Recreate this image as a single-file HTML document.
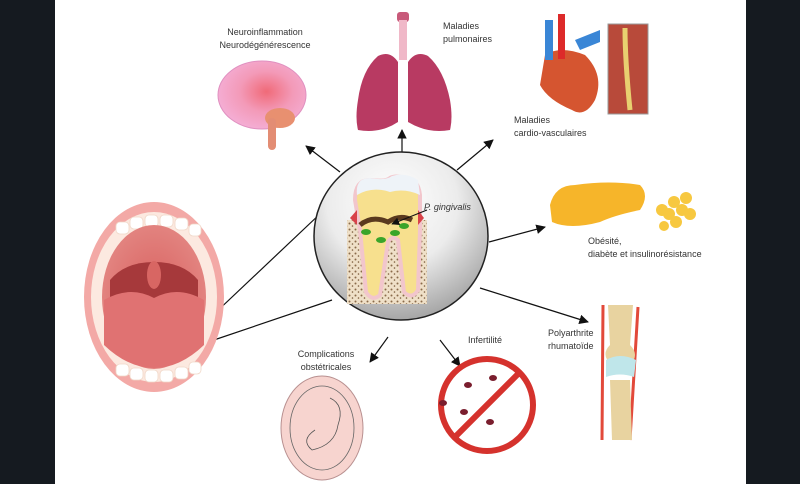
<!DOCTYPE html>
<html><head><meta charset="utf-8"><style>
html,body{margin:0;padding:0;background:#151a20;}
svg{display:block}
text{font-family:"Liberation Sans",sans-serif;font-size:9px;fill:#333;}
</style></head><body>
<svg width="800" height="484" viewBox="0 0 800 484" xmlns="http://www.w3.org/2000/svg">
<defs>
<radialGradient id="sph" cx="0.45" cy="0.3" r="0.75">
<stop offset="0" stop-color="#ffffff"/><stop offset="0.5" stop-color="#ececec"/><stop offset="1" stop-color="#9c9c9c"/></radialGradient>
<radialGradient id="mouthIn" cx="0.5" cy="0.5" r="0.6">
<stop offset="0" stop-color="#d9615f"/><stop offset="1" stop-color="#e48a86"/></radialGradient>
<radialGradient id="brainG" cx="0.55" cy="0.45" r="0.6">
<stop offset="0" stop-color="#f06a78"/><stop offset="0.5" stop-color="#f39ab8"/><stop offset="1" stop-color="#f4b0d8"/></radialGradient>
<marker id="ar" viewBox="0 0 10 10" refX="9" refY="5" markerWidth="8" markerHeight="8" orient="auto"><path d="M0,0 L10,5 L0,10 z" fill="#111"/></marker>
<pattern id="bone" width="6" height="6" patternUnits="userSpaceOnUse"><rect width="6" height="6" fill="#efe0c8"/><circle cx="1.5" cy="1.5" r="1" fill="#8a6a4a"/><circle cx="4.5" cy="4" r="0.8" fill="#7a5a3a"/></pattern>
</defs>
<rect x="55" y="0" width="691" height="484" fill="#ffffff"/>

<!-- connectors -->
<g stroke="#111" stroke-width="1.2" fill="none">
<line x1="212" y1="316" x2="322" y2="212"/>
<line x1="208" y1="342" x2="332" y2="300"/>
<line x1="340" y1="172" x2="306" y2="146" marker-end="url(#ar)"/>
<line x1="402" y1="152" x2="402" y2="130" marker-end="url(#ar)"/>
<line x1="457" y1="170" x2="493" y2="140" marker-end="url(#ar)"/>
<line x1="489" y1="242" x2="545" y2="227" marker-end="url(#ar)"/>
<line x1="480" y1="288" x2="588" y2="322" marker-end="url(#ar)"/>
<line x1="388" y1="337" x2="370" y2="362" marker-end="url(#ar)"/>
<line x1="440" y1="340" x2="460" y2="366" marker-end="url(#ar)"/>
</g>

<!-- sphere -->
<ellipse cx="401" cy="236" rx="87" ry="84" fill="url(#sph)" stroke="#222" stroke-width="1.5"/>
<!-- tooth -->
<rect x="347" y="220" width="80" height="84" fill="url(#bone)"/>
<path d="M355,200 Q355,180 370,180 Q385,182 390,178 Q395,175 405,178 Q418,178 420,195 L420,230 L418,290 Q412,300 404,292 L398,240 Q392,235 388,242 L380,295 Q372,302 366,292 L360,230 Z" fill="#f7e08e" stroke="#f2c6cc" stroke-width="4"/>
<path d="M357,195 Q355,178 370,178 Q385,181 392,176 Q405,172 418,180 L420,195 Q405,188 390,192 Q372,186 357,195 Z" fill="#eef3f8"/>
<path d="M360,225 Q372,215 388,222 Q400,214 412,220" stroke="#5a3a1e" stroke-width="5" fill="none"/>
<g fill="#3aa52a"><ellipse cx="366" cy="232" rx="5" ry="3"/><ellipse cx="381" cy="240" rx="5" ry="3"/><ellipse cx="395" cy="233" rx="5" ry="3"/><ellipse cx="404" cy="226" rx="5" ry="3"/></g>
<path d="M350,218 L357,210 L357,225 Z M424,218 L418,210 L418,225 Z" fill="#d8424a"/>
<line x1="427" y1="210" x2="392" y2="224" stroke="#111" stroke-width="1" marker-end="url(#ar)"/>
<text x="424" y="210" font-style="italic">P. gingivalis</text>

<!-- mouth -->
<ellipse cx="154" cy="297" rx="70" ry="95" fill="#f3a9a6"/>
<ellipse cx="154" cy="297" rx="63" ry="85" fill="#fce9e0"/>
<g fill="#ffffff" stroke="#f0d8c8" stroke-width="0.8">
<rect x="116" y="222" width="13" height="12" rx="4"/><rect x="130" y="217" width="13" height="12" rx="4"/><rect x="145" y="215" width="13" height="12" rx="4"/><rect x="160" y="215" width="13" height="12" rx="4"/><rect x="175" y="218" width="13" height="12" rx="4"/><rect x="189" y="224" width="12" height="12" rx="4"/>
<rect x="116" y="364" width="13" height="12" rx="4"/><rect x="130" y="368" width="13" height="12" rx="4"/><rect x="145" y="370" width="13" height="12" rx="4"/><rect x="160" y="370" width="13" height="12" rx="4"/><rect x="175" y="367" width="13" height="12" rx="4"/><rect x="189" y="362" width="12" height="12" rx="4"/>
</g>
<ellipse cx="154" cy="297" rx="52" ry="72" fill="url(#mouthIn)"/>
<path d="M110,280 Q125,262 154,262 Q183,262 198,280 L198,300 L110,300 Z" fill="#a6393b"/>
<ellipse cx="154" cy="275" rx="7" ry="14" fill="#d86663"/>
<path d="M104,300 Q130,285 154,298 Q178,285 204,300 L204,345 Q180,368 154,368 Q128,368 104,345 Z" fill="#e07272"/>

<!-- brain -->
<ellipse cx="262" cy="95" rx="44" ry="34" fill="url(#brainG)" stroke="#e090c0" stroke-width="1"/>
<ellipse cx="280" cy="118" rx="15" ry="10" fill="#e89070"/>
<rect x="268" y="118" width="8" height="32" rx="4" fill="#e38d74"/>

<!-- lungs -->
<rect x="397" y="12" width="12" height="10" rx="3" fill="#c85a7a"/>
<rect x="399" y="20" width="8" height="40" fill="#f0b8c8"/>
<path d="M398,62 Q390,50 378,56 Q362,70 358,100 Q355,118 358,130 Q380,134 398,122 Z" fill="#b83a62"/>
<path d="M408,62 Q416,50 428,56 Q444,70 450,100 Q453,118 450,130 Q428,134 408,122 Z" fill="#b83a62"/>

<!-- heart -->
<path d="M545,55 Q560,45 585,55 Q605,75 595,100 Q585,118 572,110 Q548,100 540,85 Z" fill="#d55530"/>
<rect x="558" y="14" width="7" height="45" fill="#dd2a2a"/>
<rect x="545" y="20" width="8" height="40" fill="#3a86d6"/>
<path d="M575,40 L600,30 L600,42 L580,50 Z" fill="#3a86d6"/>
<rect x="608" y="24" width="40" height="90" fill="#b84a3a" stroke="#999"/>
<path d="M625,28 Q625,60 630,110" stroke="#e8d070" stroke-width="5" fill="none"/>

<!-- pancreas -->
<path d="M550,205 Q555,185 575,185 Q610,180 640,185 Q650,195 640,210 Q615,215 600,222 Q570,230 552,222 Z" fill="#f6b52a"/>
<g fill="#f7c840"><circle cx="662" cy="210" r="6"/><circle cx="674" cy="202" r="6"/><circle cx="686" cy="198" r="6"/><circle cx="669" cy="214" r="6"/><circle cx="682" cy="210" r="6"/><circle cx="676" cy="222" r="6"/><circle cx="690" cy="214" r="6"/><circle cx="664" cy="226" r="5"/></g>

<!-- knee -->
<path d="M603,305 L602,440 M638,307 L630,440" stroke="#e2493a" stroke-width="3" fill="none"/>
<path d="M608,305 L633,305 L630,345 Q640,355 630,365 L612,365 Q600,355 610,345 Z" fill="#e8d3a0"/>
<path d="M610,380 L630,380 L632,440 L612,440 Z" fill="#e8d3a0"/>
<path d="M606,360 Q620,352 636,360 L634,377 Q620,372 606,377 Z" fill="#bfe6ea"/>

<!-- no sign -->
<circle cx="487" cy="405" r="46" fill="none" stroke="#d5322d" stroke-width="6"/>
<line x1="520" y1="372" x2="454" y2="438" stroke="#d5322d" stroke-width="6"/>
<g fill="#7a1e2e"><ellipse cx="468" cy="385" rx="4" ry="3"/><ellipse cx="493" cy="378" rx="4" ry="3"/><ellipse cx="464" cy="412" rx="4" ry="3"/><ellipse cx="490" cy="422" rx="4" ry="3"/><ellipse cx="443" cy="403" rx="4" ry="3"/></g>

<!-- fetus -->
<ellipse cx="322" cy="428" rx="41" ry="52" fill="#f7d4cf" stroke="#b89090" stroke-width="1"/>
<ellipse cx="322" cy="428" rx="32" ry="42" fill="none" stroke="#666" stroke-width="0.8"/>
<path d="M330,398 Q345,405 338,425 Q335,445 312,450 Q300,440 315,430" fill="none" stroke="#555" stroke-width="0.8"/>

<!-- labels -->
<text x="265" y="35" text-anchor="middle">Neuroinflammation</text>
<text x="265" y="48" text-anchor="middle">Neurodégénérescence</text>
<text x="443" y="29">Maladies</text>
<text x="443" y="42">pulmonaires</text>
<text x="514" y="123">Maladies</text>
<text x="514" y="136">cardio-vasculaires</text>
<text x="588" y="244">Obésité,</text>
<text x="588" y="257">diabète et insulinorésistance</text>
<text x="548" y="336">Polyarthrite</text>
<text x="548" y="349">rhumatoïde</text>
<text x="468" y="343">Infertilité</text>
<text x="326" y="357" text-anchor="middle">Complications</text>
<text x="326" y="370" text-anchor="middle">obstétricales</text>
</svg>
</body></html>
